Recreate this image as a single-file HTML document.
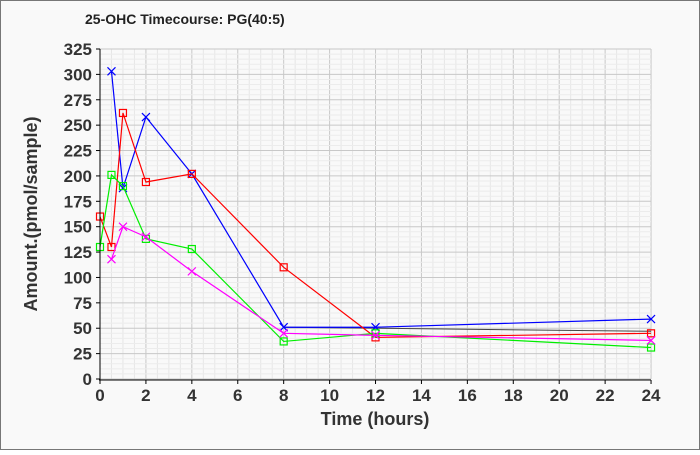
<!DOCTYPE html>
<html><head><style>body{margin:0;background:#fff}</style></head><body>
<svg width="700" height="450" xmlns="http://www.w3.org/2000/svg" font-family="Liberation Sans, sans-serif">
<rect x="0.5" y="0.5" width="699" height="449" fill="#f9f9f9" stroke="#777"/>
<text x="85" y="24" font-size="14" font-weight="bold" fill="#222">25-OHC Timecourse: PG(40:5)</text>
<g id="grid"></g>
<g id="plot"></g>
<line x1="100" y1="49" x2="100" y2="380" stroke="#000"/>
<line x1="99" y1="380" x2="651" y2="380" stroke="#000"/>
<g id="ticks" font-size="17" font-weight="bold" fill="#333"></g>
<text x="375" y="425" font-size="18" font-weight="bold" fill="#333" text-anchor="middle">Time (hours)</text>
<text transform="translate(37,214) rotate(-90)" font-size="18" font-weight="bold" fill="#333" text-anchor="middle">Amount.(pmol/sample)</text>
<script>
const X=t=>100+t*22.96, Y=v=>379-v*1.0154, ns="http://www.w3.org/2000/svg";
function el(p,n,a,txt){const e=document.createElementNS(ns,n);for(const k in a)e.setAttribute(k,a[k]);if(txt!==undefined)e.textContent=txt;document.getElementById(p).appendChild(e);return e;}
for(let t=0;t<=24;t+=0.5){el('grid','line',{x1:X(t),x2:X(t),y1:49,y2:379,stroke:t%2==0?'#c8c8c8':'#e6e6e6'});}
for(let v=0;v<=325;v+=5){el('grid','line',{x1:100,x2:651,y1:Y(v),y2:Y(v),stroke:v%25==0?'#c8c8c8':'#ececec'});}
for(let t=0;t<=24;t+=2){el('ticks','text',{x:X(t),y:401,'text-anchor':'middle'},t);el('ticks','line',{x1:X(t),x2:X(t),y1:380,y2:384,stroke:'#000'});}
for(let v=0;v<=325;v+=25){el('ticks','text',{x:92,y:Y(v)+6,'text-anchor':'end'},v);el('ticks','line',{x1:96,x2:100,y1:Y(v),y2:Y(v),stroke:'#000'});}
el('plot','polyline',{points:[[8,51],[24,47]].map(p=>X(p[0])+','+Y(p[1])).join(' '),fill:'none',stroke:'#444','stroke-width':1});
const S=[
 ['#0000ff','x',[[0.5,303],[1,188],[2,258],[4,202],[8,51],[12,51],[24,59]]],
 ['#ff0000','s',[[0,160],[0.5,130],[1,262],[2,194],[4,202],[8,110],[12,41],[24,45]]],
 ['#00ee00','s',[[0,130],[0.5,201],[1,190],[2,138],[4,128],[8,37],[12,45],[24,31]]],
 ['#ff00ff','x',[[0.5,118],[1,150],[2,140],[4,106],[8,45],[12,43],[24,38]]]];
for(const [c,m,d] of S){
 el('plot','polyline',{points:d.map(p=>X(p[0])+','+Y(p[1])).join(' '),fill:'none',stroke:c,'stroke-width':1.2});
 for(const p of d){const x=X(p[0]),y=Y(p[1]);
  if(m=='s')el('plot','rect',{x:x-3.5,y:y-3.5,width:7,height:7,fill:'none',stroke:c,'stroke-width':1.2});
  else el('plot','path',{d:`M${x-4},${y-4}L${x+4},${y+4}M${x-4},${y+4}L${x+4},${y-4}`,stroke:c,'stroke-width':1.2});}
}
</script>
</svg>
</body></html>
